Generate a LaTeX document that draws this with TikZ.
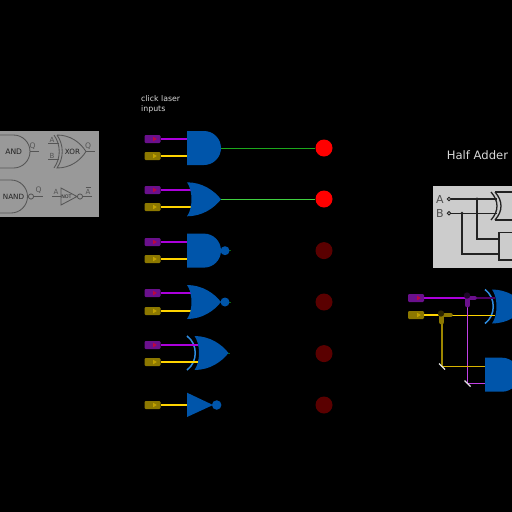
\documentclass[tikz,border=0pt]{standalone}
\usepackage{fontspec}
\setmainfont{DejaVu Sans}
\definecolor{gateblue}{HTML}{0055AA}
\definecolor{arcblue}{HTML}{2E8CE0}
\definecolor{lpurple}{HTML}{6A108C}
\definecolor{wpurple}{HTML}{AC00DC}
\definecolor{lyellow}{HTML}{8C7800}
\definecolor{wyellow}{HTML}{FFD400}
\definecolor{lampoff}{HTML}{5A0000}
\definecolor{panelA}{HTML}{999999}
\definecolor{panelB}{HTML}{CCCCCC}
\definecolor{ink}{HTML}{555555}
\definecolor{inkB}{HTML}{222222}
\definecolor{gA}{HTML}{1CA81C}
\definecolor{gB}{HTML}{40D040}
\definecolor{gC}{HTML}{0A6A0A}
\tikzset{
  laserp/.style={draw=none,fill=lpurple,rounded corners=1.2pt,minimum width=16pt,minimum height=8pt,inner sep=0pt},
  lasery/.style={draw=none,fill=lyellow,rounded corners=1.2pt,minimum width=16pt,minimum height=8pt,inner sep=0pt},
  lampon/.style={circle,fill=red,minimum size=17pt,inner sep=0pt},
  lampdim/.style={circle,fill=lampoff,minimum size=17pt,inner sep=0pt},
  wirep/.style={wpurple,line width=1.4pt},
  wirey/.style={wyellow,line width=1.4pt},
  bubble/.style={circle,fill=gateblue,minimum size=9pt,inner sep=0pt},
  gateink/.style={ink,line width=.85pt},
  adderink/.style={inkB,line width=1.3pt},
  lbl/.style={inner sep=0pt,text=#1},
  andshape/.pic={\fill[gateblue] (0,-17) -- (17,-17) arc[start angle=90,end angle=-90,radius=17,y radius=-17] -- (0,17) -- cycle;},
  orshape/.pic={\fill[gateblue] (0,-17) .. controls (15,-17) and (27,-9) .. (34,0) .. controls (27,9) and (15,17) .. (0,17) .. controls (6,9) and (6,-9) .. (0,-17) -- cycle;},
  arcshape/.pic={\draw[arcblue,line width=1.5pt] (0,-17) .. controls (11,-9) and (11,9) .. (0,17);},
  lasermark/.pic={\fill[#1] (-1.8,-2.2) -- (1.8,0) -- (-1.8,2.2) -- cycle;}
}
\begin{document}
\begin{tikzpicture}[x=1pt,y=-1pt]
\useasboundingbox (0,0) rectangle (512,512);
\clip (0,0) rectangle (512,512);
\fill[black] (0,0) rectangle (512,512);

% reference panel, top left
\fill[panelA] (0,131) rectangle (99,217);
\draw[gateink] (0,135) -- (13.5,135) arc[start angle=90,end angle=-90,radius=16.5,y radius=-16.5] -- (0,168);
\draw[gateink] (30,151.5) -- (39,151.5);
\node[lbl=inkB,font=\fontsize{7.6}{8}\selectfont] (tand) at (13.7,152) {AND};
\node[lbl=ink,font=\fontsize{7.6}{8}\selectfont] (tq1) at (32.5,146) {Q};
\draw[gateink] (57,135) .. controls (70,135) and (80,142) .. (86,151.5) .. controls (80,161) and (70,168) .. (57,168) .. controls (64,158) and (64,145) .. (57,135);
\draw[gateink] (54,135) .. controls (61,145) and (61,158) .. (54,168);
\draw[gateink] (48,143) -- (59,143) (48,159) -- (59,159) (86,151.5) -- (95,151.5);
\node[lbl=ink,font=\fontsize{7}{7}\selectfont] (ta) at (52,139.5) {A};
\node[lbl=ink,font=\fontsize{7}{7}\selectfont] (tb) at (52,155.5) {B};
\node[lbl=inkB,font=\fontsize{7.2}{8}\selectfont] (txor) at (72.5,152) {XOR};
\node[lbl=ink,font=\fontsize{7.6}{8}\selectfont] (tq2) at (88,146) {Q};
\draw[gateink] (0,180) -- (11,180) arc[start angle=90,end angle=-90,radius=16.5,y radius=-16.5] -- (0,213);
\draw[gateink] (31,196.5) circle (2.6);
\draw[gateink] (33.6,196.5) -- (43,196.5);
\node[lbl=inkB,font=\fontsize{7.2}{8}\selectfont] (tnand) at (13.5,197) {NAND};
\node[lbl=ink,font=\fontsize{7.6}{8}\selectfont] (tq3) at (38.5,190.5) {Q};
\draw[gateink] (61,188) -- (77,196.5) -- (61,205) -- cycle;
\draw[gateink] (80,196.5) circle (2.6);
\draw[gateink] (52,196.5) -- (61,196.5) (82.6,196.5) -- (92,196.5);
\node[lbl=ink,font=\fontsize{7}{7}\selectfont] (ta2) at (56,192) {A};
\node[lbl=inkB,font=\fontsize{4.8}{5}\selectfont] (tnot) at (66.5,196.5) {NOT};
\node[lbl=ink,font=\fontsize{7}{7}\selectfont] (tabar) at (88,192) {A};
\draw[ink,line width=.5pt] (85.5,187.2) -- (90.5,187.2);

% caption
\node[lbl=white!85!black,font=\fontsize{7.8}{10}\selectfont,align=left,anchor=north west] (click) at (141,95.5) {click laser\\inputs};

% named wiring points
\coordinate (g1a) at (187,139); \coordinate (g1b) at (187,156); \coordinate (g1o) at (221,148);
\coordinate (g2a) at (191,190); \coordinate (g2b) at (191,207); \coordinate (g2o) at (221,199);
\coordinate (g3a) at (187,242); \coordinate (g3b) at (187,259);
\coordinate (g4a) at (191,293); \coordinate (g4b) at (191,311);
\coordinate (g5a) at (198,345); \coordinate (g5b) at (198,362);
\coordinate (g6a) at (187,405);

% lasers
\node[laserp] (l1a) at (152.5,139) {}; \node[lasery] (l1b) at (152.5,156) {};
\node[laserp] (l2a) at (152.5,190) {}; \node[lasery] (l2b) at (152.5,207) {};
\node[laserp] (l3a) at (152.5,242) {}; \node[lasery] (l3b) at (152.5,259) {};
\node[laserp] (l4a) at (152.5,293) {}; \node[lasery] (l4b) at (152.5,311) {};
\node[laserp] (l5a) at (152.5,345) {}; \node[lasery] (l5b) at (152.5,362) {};
\node[lasery] (l6) at (152.5,405) {};
\foreach \yy in {139,190,242,293,345} {\pic at (155,\yy) {lasermark={red!55!lpurple}};}
\foreach \yy in {156,207,259,311,362,405} {\pic at (155,\yy) {lasermark={wyellow!45!lyellow}};}

% lamps
\node[lampon] (o1) at (324,148) {};
\node[lampon] (o2) at (324,199) {};
\node[lampdim] (o3) at (324,250.6) {};
\node[lampdim] (o4) at (324,302) {};
\node[lampdim] (o5) at (324,353.6) {};
\node[lampdim] (o6) at (324,405) {};

% wires
\draw[wirep] (l1a.east) -- (g1a); \draw[wirey] (l1b.east) -- (g1b);
\draw[wirep] (l2a.east) -- (g2a); \draw[wirey] (l2b.east) -- (g2b);
\draw[wirep] (l3a.east) -- (g3a); \draw[wirey] (l3b.east) -- (g3b);
\draw[wirep] (l4a.east) -- (g4a); \draw[wirey] (l4b.east) -- (g4b);
\draw[wirey] (l6.east) -- (g6a);
\draw[gA,line width=1pt] (g1o) -- (o1.west);
\draw[gB,line width=.9pt] (g2o) -- (o2.west);
\draw[gC,line width=1pt] (225,250.7) -- (230.5,250.7) (225,302) -- (230.5,302) (226,353) -- (230,353);

% gates
\pic at (187,148) {andshape};
\pic at (187,199.3) {orshape};
\pic at (187,250.6) {andshape};
\pic at (187,302) {orshape};
\pic at (194.5,353) {orshape};
\pic at (187,353) {arcshape};
\fill[gateblue] (187,392.7) -- (213,405) -- (187,417) -- cycle;
\node[bubble] (b3) at (225,250.7) {};
\node[bubble] (b4) at (225,302) {};
\node[bubble,minimum size=9.5pt] (b6) at (216.7,405) {};
\draw[wirep] (l5a.east) -- (g5a); \draw[wirey] (l5b.east) -- (g5b);

% half adder
\node[lbl=white!85!black,font=\fontsize{11.6}{13}\selectfont] (ha) at (477.5,155.5) {Half Adder};
\fill[panelB] (432.5,186) rectangle (512,268);
\node[lbl=inkB!80!white,font=\fontsize{11}{12}\selectfont] (hA) at (440,199) {A};
\node[lbl=inkB!80!white,font=\fontsize{11}{12}\selectfont] (hB) at (440,213.5) {B};
\node[circle,draw=inkB,line width=.8pt,fill=panelB,minimum size=3.5pt,inner sep=0pt] (pa) at (449,199) {};
\node[circle,draw=inkB,line width=.8pt,fill=panelB,minimum size=3.5pt,inner sep=0pt] (pb) at (449,213.3) {};
\coordinate (xa) at (497,199); \coordinate (xb) at (497,213.3);
\coordinate (ja) at (477,199); \coordinate (jb) at (462,213.3);
\coordinate (aa) at (499,239); \coordinate (ab) at (499,254);
\draw[adderink] (pa) -- (xa);
\draw[adderink] (pb) -- (xb);
\draw[adderink] (ja) |- (aa);
\draw[adderink] (jb) |- (ab);
\fill[inkB] (ja) circle (1.6) (jb) circle (1.6);
\draw[adderink] (491,192) .. controls (499,201) and (499,211) .. (491,220);
\draw[adderink] (495,192) .. controls (503,201) and (503,211) .. (495,220);
\draw[adderink] (495,192) -- (512,192) (495,220) -- (512,220);
\draw[adderink] (512,232.7) -- (499,232.7) -- (499,260) -- (512,260);

% half adder live circuit
\node[laserp] (h1) at (416,298) {};
\node[lasery] (h2) at (416,315) {};
\pic at (419,298) {lasermark={red!55!lpurple}};
\pic at (419,315) {lasermark={wyellow!45!lyellow}};
\coordinate (s1) at (467.5,298); \coordinate (s2) at (442,315);
\coordinate (m1) at (467.5,383.5); \coordinate (m2) at (442,366.5);
\coordinate (x1) at (495,298); \coordinate (x2) at (495,315);
\coordinate (a1) at (485,383.5); \coordinate (a2) at (485,366.5);
\pic at (485,306.5) {arcshape};
\pic at (492,306.5) {orshape};
\pic at (485,374.7) {andshape};
\draw[wirep] (h1.east) -- (s1);
\draw[wpurple!45!black,line width=1.4pt] (s1) -- (x1);
\draw[wirey] (h2.east) -- (s2);
\draw[wyellow,line width=1pt] (s2) -- (x2);
\draw[wpurple!75!white,line width=.8pt] (s1) -- (m1) -- (a1);
\draw[lyellow!85!wyellow,line width=1.4pt] (s2) -- (m2);
\draw[wyellow!85!black,line width=1.4pt] (m2) -- (a2);
\draw[lyellow,line width=3.5pt,line cap=round] (s2) -- (451,315);
\draw[lyellow,line width=5pt,line cap=round] (441.8,315) -- (441.8,322);
\fill[black!70!lyellow] (441,313.5) circle (3.2);
\draw[lpurple,line width=3.5pt,line cap=round] (s1) -- (475,298);
\draw[lpurple,line width=5pt,line cap=round] (467.5,298) -- (467.5,305);
\fill[black!70!lpurple] (467,295.5) circle (3.2);
\draw[white!90!black,line width=1.2pt] ([xshift=-3pt,yshift=3pt]m2) -- ([xshift=3pt,yshift=-3pt]m2);
\draw[white!90!black,line width=1.2pt] ([xshift=-3pt,yshift=3pt]m1) -- ([xshift=3pt,yshift=-3pt]m1);
\end{tikzpicture}
\end{document}
